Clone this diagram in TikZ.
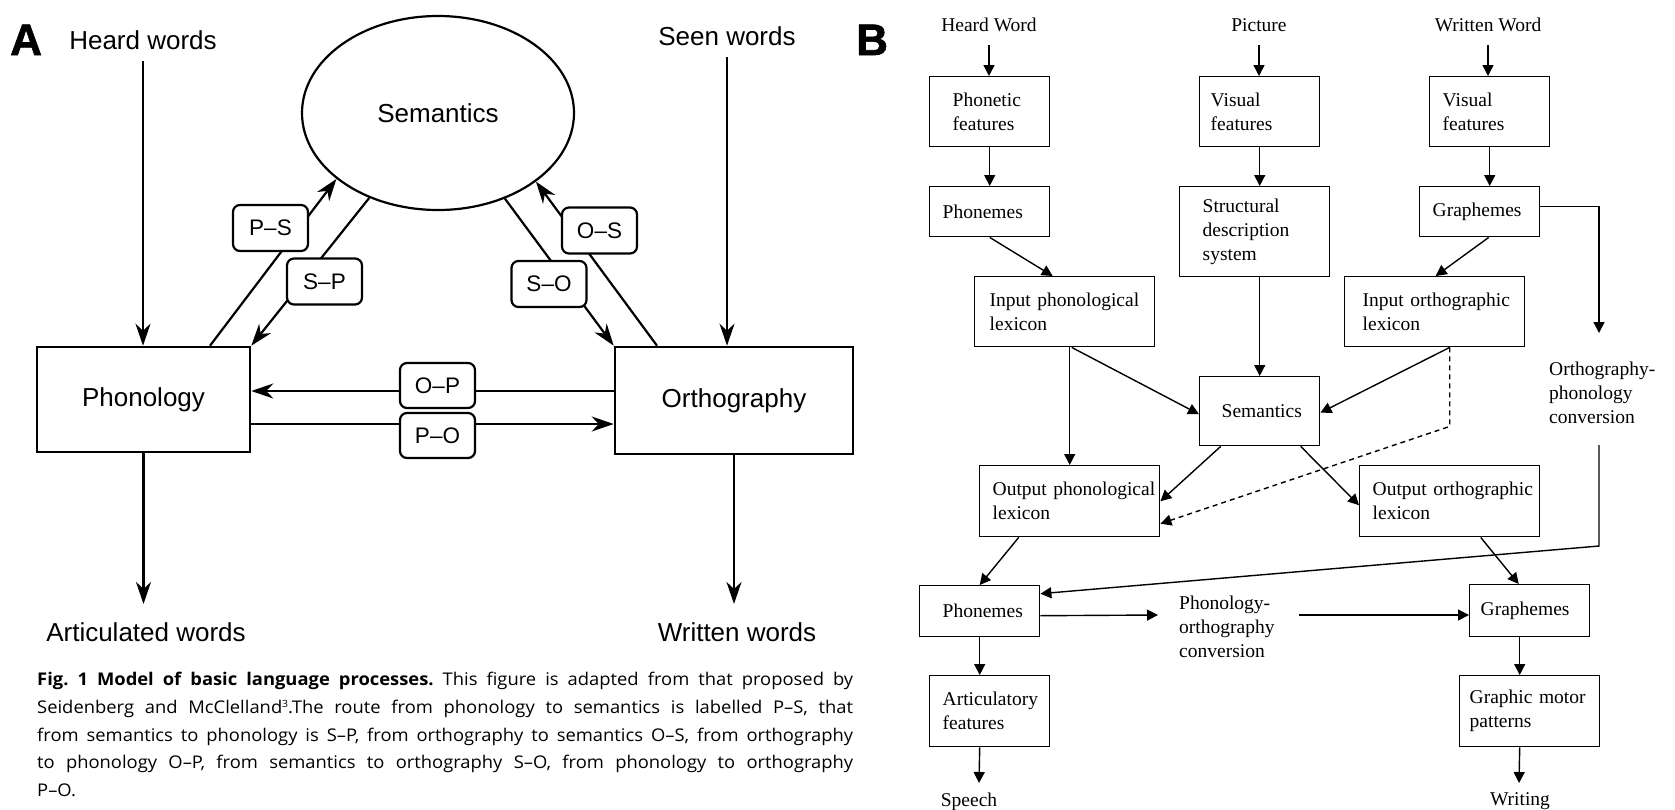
\documentclass[tikz,border=0pt]{standalone}
\usepackage{fontspec}
\setmainfont{Liberation Serif}
\newfontfamily\arialfont{Liberation Sans}
\newfontfamily\panelfont[BoldFeatures={FakeBold=1.5}]{Liberation Sans}
\newfontfamily\capfont[FakeStretch=1.05]{Open Sans}
\usetikzlibrary{arrows.meta,shapes.geometric,calc}

\begin{document}
\begin{tikzpicture}[x=1pt,y=-1pt,
  % panel A: dual-route triangle model
  aline/.style={line width=2.2pt},
  aarr/.style={aline,-{Stealth[length=22pt,width=15pt,inset=7pt]}},
  abox/.style={draw,line width=2.6pt,inner sep=0pt,font=\arialfont\fontsize{26}{30}\selectfont},
  atag/.style={draw,fill=white,line width=2.2pt,rounded corners=7pt,minimum width=75pt,
               minimum height=46pt,inner sep=0pt,font=\arialfont\fontsize{22.5}{26}\selectfont},
  atext/.style={inner sep=0pt,font=\arialfont\fontsize{26}{30}\selectfont},
  panel/.style={inner sep=0pt,font=\panelfont\bfseries\fontsize{44}{48}\selectfont},
  % panel B: box-and-arrow processing model
  bline/.style={line width=1.4pt},
  barr/.style={bline,-{Triangle[length=11pt,width=11pt]}},
  bbox/.style={draw,line width=1.4pt,anchor=north west,align=left,inner ysep=0pt,
               font=\fontsize{19.5}{24}\selectfont},
  btext/.style={inner sep=0pt,font=\fontsize{19.5}{24}\selectfont},
]
\useasboundingbox (0,0) rectangle (1675,809);

% ---------------- Panel A ----------------
\node[panel,anchor=base west] (labA) at (10,55) {A};

\node[atext,anchor=base] (heard) at (143,49) {Heard words};
\node[atext,anchor=base] (seen) at (727,45) {Seen words};
\node[atext,anchor=base] (artic) at (146,641) {Articulated words};
\node[atext,anchor=base] (written) at (737,641) {Written words};

\node[abox,minimum width=213pt,minimum height=105pt] (aphon) at (143.5,399.5) {Phonology};
\node[abox,minimum width=238pt,minimum height=107pt] (aorth) at (734,400.5) {Orthography};
\node[draw,ellipse,line width=2.2pt,minimum width=272pt,minimum height=194pt,inner sep=0pt,
      font=\arialfont\fontsize{26}{30}\selectfont] (asem) at (438,113) {Semantics};

% inputs and outputs
\draw[aarr,shorten <=12pt] (heard.base) -- (heard.base |- aphon.north);
\draw[aarr,shorten <=12pt] (seen.base) -- (seen.base |- aorth.north);
\draw[aarr,shorten >=18pt] (aphon.south) -- (aphon.south |- artic.north);
\draw[aarr,shorten >=18pt] (aorth.south) -- (aorth.south |- written.north);

% routes between the three codes
\draw[aarr] ([xshift=66.5pt]aphon.north) -- (asem.213);
\draw[aarr] (asem.231) -- (aphon.north east);
\draw[aarr] (asem.308) -- (aorth.north west);
\draw[aarr] ([xshift=-77pt]aorth.north) -- (asem.325);
\draw[aarr] ([yshift=9.5pt]aorth.west) -- ([yshift=8.5pt]aphon.east);
\draw[aarr] ([yshift=-24.5pt]aphon.east) -- ([yshift=-23.5pt]aorth.west);

% route labels
\node[atag] (tPS) at (270.5,228) {P–S};
\node[atag] (tSP) at (324.5,281.5) {S–P};
\node[atag] (tOS) at (599.5,230.5) {O–S};
\node[atag] (tSO) at (549,284) {S–O};
\node[atag,minimum height=45pt] (tOP) at (437.5,385.5) {O–P};
\node[atag,minimum height=45pt] (tPO) at (437.5,435.5) {P–O};

% caption
\node[anchor=north west,inner sep=0pt,text width=816pt,align=justify,
      font=\capfont\fontsize{17.5}{27.75}\selectfont\frenchspacing] (cap) at (37,672)
 {\noindent\textbf{Fig. 1 Model of basic language processes.} This figure is adapted from that proposed by\linebreak
  Seidenberg and McClelland{\fontsize{10}{10}\selectfont\raisebox{6pt}{3}}.The route from phonology to semantics is labelled P–S, that\linebreak
  from semantics to phonology is S–P, from orthography to semantics O–S, from orthography\linebreak
  to phonology O–P, from semantics to orthography S–O, from phonology to orthography\linebreak
  P–O.};

% ---------------- Panel B ----------------
\node[panel,anchor=base west] (labB) at (856,55) {B};

\node[btext,anchor=base] (hw) at (989,31) {Heard Word};
\node[btext,anchor=base] (pic) at (1259,31) {Picture};
\node[btext,anchor=base] (ww) at (1488,31) {Written Word};

\node[bbox,text width=74pt,inner xsep=23pt,minimum height=70pt] (phfeat) at (929,76) {Phonetic\\features};
\node[bbox,text width=94pt,inner xsep=13pt,minimum height=50pt] (phon1) at (929,186) {Phonemes};
\node[bbox,text width=150pt,inner xsep=15pt,minimum height=70pt] (ipl) at (974,276) {\mbox{Input phonological}\\lexicon};
\node[bbox,text width=98pt,inner xsep=11pt,minimum height=70pt] (vis1) at (1199,76) {Visual\\features};
\node[bbox,text width=104pt,inner xsep=23pt,minimum height=90pt] (sds) at (1179,186) {Structural\\description\\system};
\node[bbox,text width=76pt,inner xsep=22pt,minimum height=69pt] (bsem) at (1199,376) {Semantics};
\node[bbox,text width=94pt,inner xsep=13pt,minimum height=70pt] (vis2) at (1429,76) {Visual\\features};
\node[bbox,text width=94pt,inner xsep=13pt,minimum height=50pt] (gra1) at (1419,186) {Graphemes};
\node[bbox,text width=144pt,inner xsep=18pt,minimum height=70pt] (iol) at (1344,276) {\mbox{Input orthographic}\\lexicon};
\node[bbox,text width=154pt,inner xsep=13pt,minimum height=71pt] (opl) at (979,465) {\mbox{Output phonological}\\lexicon};
\node[bbox,text width=154pt,inner xsep=13pt,minimum height=71pt] (ool) at (1359,465) {\mbox{Output orthographic}\\lexicon};
\node[bbox,text width=74pt,inner xsep=23pt,minimum height=51pt] (phon2) at (919,585) {Phonemes};
\node[bbox,text width=98pt,inner xsep=11pt,minimum height=52pt] (gra2) at (1469,584) {Graphemes};
\node[bbox,text width=94pt,inner xsep=13pt,minimum height=71pt] (art) at (929,675) {\mbox{Articulatory}\\features};
\node[bbox,text width=120pt,inner xsep=10pt,minimum height=71pt] (gmp) at (1459,675) {\mbox{Graphic motor}\\patterns};

\node[btext,anchor=north west,align=left] (opcT) at (1549,361.5) {Orthography-\\phonology\\conversion};
\node[btext,anchor=north west,align=left] (pocT) at (1179,595.7) {Phonology-\\orthography\\conversion};
\node[btext,anchor=base] (speech) at (969,806) {Speech};
\node[btext,anchor=base] (writing) at (1520,805) {Writing};

\coordinate (opcIn) at (1599,333);
\coordinate (opcOut) at (1599,445);
\coordinate (pocIn) at (1158,615);
\coordinate (pocOut) at (1299,615);
\coordinate (spIn) at (979,783);
\coordinate (wrIn) at (1519,783);

% auditory route
\draw[barr,shorten <=14pt] (hw.base) -- (hw.base |- phfeat.north);
\draw[barr] (phfeat.south) -- (phon1.north);
\draw[barr] (phon1.south) -- ([xshift=-12pt]ipl.north);
\draw[barr] ([xshift=5pt]ipl.south) -- (opl.north);
\draw[barr] ([xshift=7pt]ipl.south) -- ([yshift=-3pt]bsem.west);

% picture route
\draw[barr,shorten <=14pt] (pic.base) -- (pic.base |- vis1.north);
\draw[barr] (vis1.south) -- (vis1.south |- sds.north);
\draw[barr] (bsem.north |- sds.south) -- (bsem.north);

% written route
\draw[barr,shorten <=14pt] (ww.base) -- (ww.base |- vis2.north);
\draw[barr] (vis2.south) -- (vis2.south |- gra1.north);
\draw[barr] ([xshift=9pt]gra1.south) -- ([xshift=1pt]iol.north);
\draw[barr] ([yshift=5pt]gra1.east) -| (opcIn);
\draw[barr] ([xshift=15pt]iol.south) -- ([yshift=-1.5pt]bsem.east);
\draw[bline,dash pattern=on 5pt off 4pt,-{Triangle[length=11pt,width=11pt]}]
  ([xshift=15pt]iol.south) -- ++(0,79) -- ([yshift=-22.5pt]opl.east);

% from semantics to output lexicons
\draw[barr] ([xshift=-39pt]bsem.south) -- (opl.east);
\draw[barr] ([xshift=41pt]bsem.south) -- ([yshift=-4pt]ool.west);

% conversion routes
\draw[barr] (opcOut) -- ++(0,101) -- ([yshift=17.5pt]phon2.east);
\draw[barr] ([yshift=-4.5pt]phon2.east) -- (pocIn);
\draw[barr] (pocOut) -- (pocOut -| gra2.west);

% outputs
\draw[barr] ([xshift=-51pt]opl.south) -- (phon2.north);
\draw[barr] ([xshift=31pt]ool.south) -- ([xshift=-11pt]gra2.north);
\draw[barr] (phon2.south) -- (phon2.south |- art.north);
\draw[barr] (art.south -| phon2.south) -- (spIn);
\draw[barr] ([xshift=-10pt]gra2.south) -- ([xshift=-10pt]gmp.north);
\draw[barr] ([xshift=-10pt]gmp.south) -- (wrIn);
\end{tikzpicture}
\end{document}
